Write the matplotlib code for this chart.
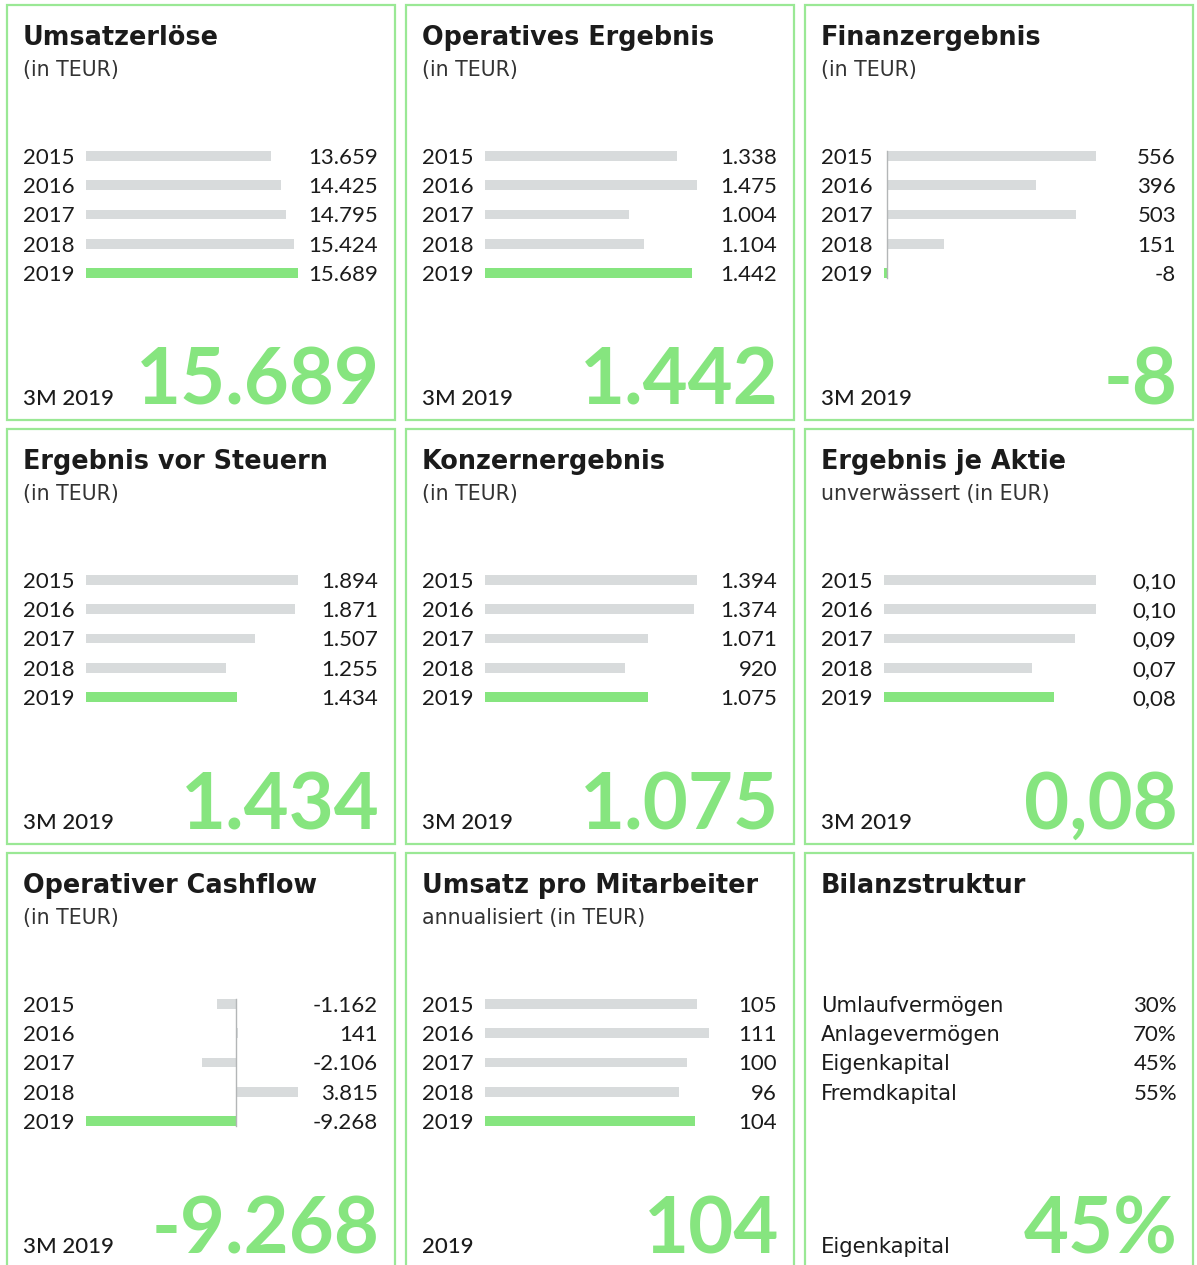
import matplotlib
matplotlib.use("Agg")
import matplotlib.pyplot as plt
from matplotlib.patches import Rectangle

plt.rcParams['font.family'] = ['Lato', 'DejaVu Sans']

# ---------------- data ----------------
years = ['2015', '2016', '2017', '2018', '2019']

titles = ['Umsatzerlöse', 'Operatives Ergebnis', 'Finanzergebnis',
          'Ergebnis vor Steuern', 'Konzernergebnis', 'Ergebnis je Aktie',
          'Operativer Cashflow', 'Umsatz pro Mitarbeiter', 'Bilanzstruktur']
subtitles = ['(in TEUR)', '(in TEUR)', '(in TEUR)',
             '(in TEUR)', '(in TEUR)', 'unverwässert (in EUR)',
             '(in TEUR)', 'annualisiert (in TEUR)', '']

# bar lengths as drawn in the picture
umsatz = [13659, 14425, 14795, 15424, 15689]
operatives = [1338, 1475, 1004, 1104, 1442]
finanz = [556, 396, 503, 151, -8]
ebt = [1894, 1871, 1507, 1255, 1345]
konzern = [1394, 1374, 1071, 920, 1075]
eps = [0.10, 0.10, 0.09, 0.07, 0.08]
cashflow = [-1162, 141, -2106, 3815, -9268]
umsatz_ma = [105, 111, 100, 96, 104]

value_labels = [
    ['13.659', '14.425', '14.795', '15.424', '15.689'],
    ['1.338', '1.475', '1.004', '1.104', '1.442'],
    ['556', '396', '503', '151', '-8'],
    ['1.894', '1.871', '1.507', '1.255', '1.434'],
    ['1.394', '1.374', '1.071', '920', '1.075'],
    ['0,10', '0,10', '0,09', '0,07', '0,08'],
    ['-1.162', '141', '-2.106', '3.815', '-9.268'],
    ['105', '111', '100', '96', '104'],
]

bilanz_labels = ['Umlaufvermögen', 'Anlagevermögen', 'Eigenkapital', 'Fremdkapital']
bilanz_values = ['30%', '70%', '45%', '55%']

period_labels = ['3M 2019'] * 7 + ['2019', 'Eigenkapital']
big_values = ['15.689', '1.442', '-8', '1.434', '1.075', '0,08', '-9.268', '104', '45%']

series = [umsatz, operatives, finanz, ebt, konzern, eps, cashflow, umsatz_ma]

# ---------------- style ----------------
W, H = 1197, 1265
DPI = 100
GREEN = '#86e57f'
BORDER = '#9ae895'
GREY = '#d8dbdc'
ZERO = '#b3b6b7'
TXT = '#1b1b1b'
WIDE = ['DejaVu Sans']

fig = plt.figure(figsize=(W / DPI, H / DPI), dpi=DPI)

def fx(px):
    return px / W

def fy(py):
    return 1 - py / H

panel_w, panel_h = 388, 415
col_x = [7, 406, 805]
row_y = [5, 429, 853]
row_step = 29.25
row0 = 151  # relative center of first row

for i in range(9):
    r, c = divmod(i, 3)
    x0, y0 = col_x[c], row_y[r]
    fig.patches.append(Rectangle((fx(x0), fy(y0 + panel_h)), fx(panel_w), panel_h / H,
                                 transform=fig.transFigure, fill=False,
                                 edgecolor=BORDER, linewidth=1.6))
    fig.text(fx(x0 + 16), fy(y0 + 40), titles[i], fontsize=18.4, fontweight='bold',
             family=WIDE, color=TXT, ha='left', va='baseline')
    if subtitles[i]:
        fig.text(fx(x0 + 16), fy(y0 + 71), subtitles[i], fontsize=14.8,
                 family=WIDE, color='#333333', ha='left', va='baseline')
    if i == 8:
        fig.text(fx(x0 + 16), fy(y0 + 400), period_labels[i], fontsize=15.2,
                 family=WIDE, color=TXT, ha='left', va='baseline')
    else:
        fig.text(fx(x0 + 16), fy(y0 + 400), period_labels[i], fontsize=16,
                 fontweight='medium', color=TXT, ha='left', va='baseline')
    fig.text(fx(x0 + 373), fy(y0 + 400), big_values[i], fontsize=56,
             fontweight='bold', color=GREEN, ha='right', va='baseline')

    top = y0 + row0 - row_step / 2
    if i < 8:
        vals = series[i]
        aw = 224 if i == 7 else 212
        ax = fig.add_axes([fx(x0 + 79), fy(top + 5 * row_step), fx(aw), 5 * row_step / H])
        ax.set_axis_off()
        lo = min(0, min(vals))
        hi = max(vals)
        ax.set_xlim(lo, hi)
        ax.set_ylim(4.5, -0.5)
        colors = [GREY] * 4 + [GREEN]
        ax.barh(range(5), vals, height=0.34, color=colors, linewidth=0)
        if lo < 0:
            ax.plot([0, 0], [-0.17, 4.17], color=ZERO, linewidth=1.0, zorder=3)
        for k in range(5):
            ax.annotate(years[k], xy=(0, k), xycoords=('axes fraction', 'data'),
                        xytext=(-63, -8), textcoords='offset pixels',
                        ha='left', va='baseline', fontsize=16, color=TXT,
                        annotation_clip=False)
            ax.annotate(value_labels[i][k], xy=(0, k), xycoords=('axes fraction', 'data'),
                        xytext=(292, -8), textcoords='offset pixels',
                        ha='right', va='baseline', fontsize=16, color=TXT,
                        annotation_clip=False)
    else:
        for k in range(4):
            yc = y0 + row0 + k * row_step
            fig.text(fx(x0 + 16), fy(yc + 8), bilanz_labels[k], fontsize=15.2,
                     family=WIDE, color=TXT, ha='left', va='baseline')
            fig.text(fx(x0 + 372), fy(yc + 8), bilanz_values[k], fontsize=16,
                     color=TXT, ha='right', va='baseline')

fig.savefig('out.png', dpi=DPI)
